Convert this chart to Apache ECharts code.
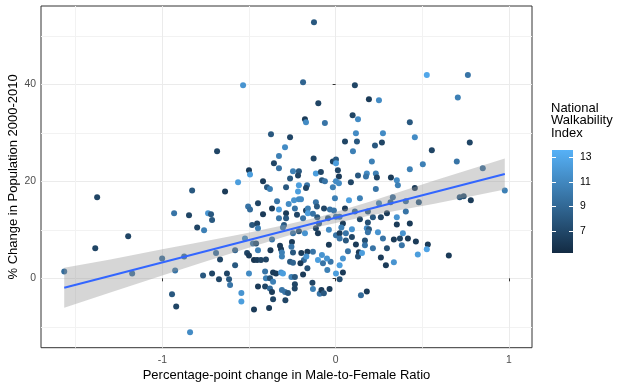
<!DOCTYPE html>
<html><head><meta charset="utf-8">
<script src="https://cdn.jsdelivr.net/npm/echarts@6/dist/echarts.min.js"></script>
<style>html,body{margin:0;padding:0;background:#fff}#c{width:629px;height:389px}</style>
</head><body><div id="c"></div>
<script>
// Percentage-point change in Male-to-Female Ratio
const mfChange = [
-0.125,-0.188,-0.534,-0.100,-0.177,-0.171,-0.373,-0.263,-0.292,-0.684,-0.327,-0.356,-0.127,-0.327,-0.500,-0.494,-0.246,-0.212,-0.217,-0.263,
-0.114,-0.563,-0.419,-0.212,-0.165,-0.396,-0.379,-0.286,-0.217,-0.171,-0.828,-0.638,-1.376,0.526,0.763,0.111,0.192,0.250,0.705,0.098,
0.129,-0.062,0.428,0.117,0.273,0.457,0.054,0.123,0.227,0.267,0.774,0.555,0.100,-0.016,0.002,0.002,0.209,0.503,0.699,0.849,
0.428,0.013,-0.085,0.019,0.129,0.180,0.175,0.232,0.238,0.319,0.353,0.359,-0.079,-0.062,0.002,0.019,0.088,-0.016,0.232,0.457,
0.976,-0.004,0.077,0.140,0.716,0.739,0.780,0.653,0.330,0.250,0.480,0.405,0.317,0.054,0.111,0.186,0.296,0.405,-0.448,-0.338,
-0.367,-0.327,-0.240,-0.212,-0.200,-0.271,-0.235,-0.171,-0.160,-0.114,-0.108,-0.067,-0.033,-0.010,-0.505,-0.494,-0.160,-0.286,-0.419,-0.482,
-0.453,-0.448,-0.327,-0.286,-0.298,-0.304,-0.223,-0.188,-0.131,-0.106,-0.096,-0.044,0.002,-0.246,-0.212,-0.177,-0.114,-0.102,-0.039,0.002,
-0.523,-0.477,-0.459,-0.367,-0.321,-0.315,-0.310,-0.310,-0.252,-0.255,-0.246,-0.198,-0.163,-0.131,-0.183,-0.169,-0.511,-0.500,-0.471,-0.453,
-0.431,-0.402,-0.448,-0.376,-0.263,-0.246,-0.203,-0.102,-0.073,-0.029,-0.079,-0.039,0.002,-0.163,-0.188,-0.048,-0.500,-0.407,-0.361,-0.344,
-0.315,-0.304,-0.255,-0.235,-0.402,-0.379,-0.361,-0.235,-0.448,-0.407,-0.379,-0.367,-0.310,-0.292,-0.275,-0.134,-0.131,-0.092,-0.082,-0.035,
-0.236,-0.361,-0.290,-0.544,-0.544,-0.384,-0.471,-0.068,0.023,0.042,0.140,0.186,0.215,0.261,0.353,0.353,0.428,0.033,0.094,0.180,
0.192,0.186,0.244,0.388,0.023,0.059,0.023,0.059,0.094,0.169,0.169,0.273,0.336,0.371,0.417,0.463,0.117,0.382,0.532,0.526,
0.215,0.296,0.071,0.134,0.129,0.152,0.042,0.023,0.261,0.336,0.290,0.474,0.042,0.023,0.180,0.146,-0.932,-0.846,-0.736,-0.719,
-0.713,-0.799,-0.759,-1.001,-0.874,-0.690,-0.667,-0.580,-0.926,-0.580,-0.765,-0.713,-0.673,-0.627,-0.615,-0.609,-0.944,-0.920,-0.840,-1.566,
-1.387,-1.197,-1.174,-0.050
];
// % Change in Population 2000-2010
const popChange = [
52.8,40.4,39.8,36.1,32.8,32.2,29.7,29.1,27.0,26.2,25.2,23.7,24.7,22.7,22.3,21.4,22.1,22.1,21.2,20.6,
21.6,19.8,20.0,19.2,19.2,18.8,18.4,18.8,17.9,18.6,18.1,17.9,16.7,41.9,41.9,39.8,36.9,36.7,37.3,33.6,
32.8,32.0,32.2,29.9,29.9,29.1,28.2,28.2,27.4,28.0,28.0,26.4,26.2,24.1,24.5,23.7,24.1,23.5,24.1,22.7,
22.5,22.3,21.9,21.0,21.2,21.6,21.0,21.6,20.8,20.8,20.2,19.2,20.2,20.0,20.0,19.6,19.8,18.8,18.4,18.6,
18.1,16.5,16.1,16.5,16.7,16.9,16.1,4.7,16.7,15.5,15.7,15.9,15.7,14.4,13.8,13.8,13.4,13.8,15.5,15.9,
14.4,14.2,16.1,16.3,16.3,15.3,14.4,14.0,14.4,15.7,14.8,14.4,14.2,14.0,14.8,14.2,13.4,13.4,13.2,11.0,
11.3,10.3,12.4,12.4,11.0,10.5,13.1,12.4,13.3,12.6,11.3,12.4,12.7,9.3,9.7,9.3,10.3,9.3,10.0,8.9,
8.2,7.2,7.2,8.0,6.7,6.0,5.3,4.5,7.5,6.5,5.3,5.2,5.5,5.5,3.8,4.5,5.2,4.7,3.8,3.8,
3.8,3.9,5.8,5.8,3.4,3.2,3.1,3.8,3.1,3.4,4.8,6.9,1.0,2.1,0.8,1.7,1.0,1.4,1.2,1.0,
1.2,1.0,0.3,0.3,0.0,0.0,-0.7,-1.2,-1.7,-1.7,-2.1,-2.8,-2.4,-2.8,-3.0,-0.9,-2.2,-3.2,-2.4,-2.2,
-2.1,-4.3,-4.5,-3.0,-4.8,-6.1,-6.4,-3.1,12.7,11.3,12.2,11.5,12.6,12.6,12.6,11.1,11.3,10.5,10.1,10.3,
10.1,9.5,9.5,9.3,9.3,9.3,8.2,7.8,8.5,7.8,6.8,8.2,8.0,8.2,8.2,7.6,7.0,6.8,7.0,6.0,
6.2,6.2,5.6,5.4,4.5,5.2,4.1,2.7,4.3,3.3,2.7,4.9,1.2,-0.2,-2.7,-3.5,13.4,13.0,13.4,13.2,
12.0,10.5,9.9,4.1,4.5,5.2,3.9,5.8,1.6,2.7,0.6,1.0,-0.2,1.0,-0.2,-1.4,-3.3,-5.8,-11.1,1.4,
6.2,8.7,1.0,4.1
];
// National Walkability Index
const walkIndex = [
8,8.8,11.8,6.8,6.2,11.2,8,6.8,11.2,6.8,10.5,6.8,6.8,9.8,6.2,12.4,10.5,8,6.8,8,
12.4,12.4,6.2,12.4,9.8,8,10.5,8,12.4,6.8,8,6.2,6.8,13,9.8,6.8,6.2,11.2,10.5,6.8,
11.2,9.8,8,11.2,11.2,11.2,6.8,8,8,6.8,6.8,6.8,10.5,6.8,8,12.4,10.5,10.5,9.8,9.3,
10.5,6.8,6.8,6.2,8,11.2,9.8,10.5,6.8,6.2,11.2,10.5,8,9.8,11.2,11.2,6.8,10.5,9.8,6.2,
10.5,10.5,12.4,10.5,8,7.5,6.2,6.2,9.3,10.5,8,9.3,8.8,6.2,8.8,8,6.2,9.8,6.8,9.8,
6.2,12.4,11.8,11.2,11.2,11.2,9.8,6.8,10.5,9.8,8,6.8,9.8,9.8,9.8,9.3,12.4,6.2,6.2,8,
6.8,10.5,9.8,8,8,9.8,6.8,9.8,9.8,8,8,8,9.8,9.8,7.5,11.8,6.8,6.2,11.2,9.8,
11.2,9.8,7.5,9.8,6.2,6.2,10.5,10.5,6.2,9.8,8,6.2,6.2,9.8,9.3,11.8,6.8,6.2,5.8,6.2,
6.8,6.8,10.5,6.2,8,8.8,6.2,12.4,9.8,9.8,11.8,6.2,12.4,7.5,6.2,10.5,11.2,9.8,6.2,6.2,
11.8,12.4,10.5,8,10.5,7.5,10.5,6.8,6.2,6.8,9.3,6.2,9.8,9.8,8,6.8,10.5,9.8,6.2,6.2,
6.8,6.8,6.8,11.8,12.4,6.2,6.2,8,9.8,6.2,6.8,7.5,8,6.8,11.8,6.2,6.2,10.5,11.8,11.2,
8,9.8,11.8,11.8,6.2,9.8,9.8,8,6.8,7.5,9.8,9.8,6.2,6.8,6.2,6.2,6.2,9.8,6.2,12.8,
9.8,7.5,9.8,6.2,7.5,12.4,11.8,12.4,6.2,11.8,6.2,12.4,6.2,7.5,6.2,9.3,9.8,6.8,11.8,8,
8,6.8,10.5,9.3,9.3,9.3,6.8,8.8,9.8,8,8,6.8,6.8,6.8,8,9.8,8,6.8,11.2,9.3,
6.8,6.8,9.3,11.8
];
// linear fit (geom_smooth)
const fitX = [-1.566, 0.976];
const fitY = [-1.94, 21.5];
const bandX = [-1.566, -1.3, -1.0, -0.8, -0.524, -0.3, -0.09, 0.2, 0.57, 0.976];
const bandLower = [-6.04, -2.9, 0.57, 2.92, 6.06, 8.53, 10.67, 12.95, 15.36, 18.31];
const bandUpper = [2.16, 3.9, 5.97, 7.32, 9.26, 10.93, 12.67, 15.85, 20.16, 24.71];
// ticks
const xTicks = [-1, 0, 1];
const xMinor = [-1.5, -0.5, 0.5];
const yTicks = [0, 20, 40];
const yMinor = [-10, 10, 30, 50];
const legendTicks = [7, 9, 11, 13];
const walkRange = [5.2, 13.6];

const FONT = 'Liberation Sans, Arial, sans-serif';
const chart = echarts.init(document.getElementById('c'));

const scatterData = mfChange.map((x, i) => [x, popChange[i], walkIndex[i]]);
const bandData = bandX.map((x, i) => [x, bandLower[i], bandUpper[i]]);

const option = {
  animation: false,
  backgroundColor: '#fff',
  textStyle: { fontFamily: FONT },
  title: {
    text: 'National\nWalkability\nIndex',
    left: 551, top: 102, padding: 0,
    textStyle: { fontSize: 13, fontWeight: 'normal', color: '#000', lineHeight: 12.5, fontFamily: FONT }
  },
  visualMap: {
    show: false, seriesIndex: 0, dimension: 2,
    min: walkRange[0], max: walkRange[1],
    inRange: { color: ['#132B43', '#56B1F7'] }
  },
  grid: [
    { left: 41, right: 97, top: 6, bottom: 41.3, show: true, borderColor: '#333', borderWidth: 1, backgroundColor: '#fff',
      containLabel: false, outerBoundsMode: 'none' },
    { left: 552, top: 150, width: 21, height: 103, show: false, containLabel: false, outerBoundsMode: 'none' }
  ],
  xAxis: [
    {
      type: 'value', gridIndex: 0, min: -1.70, max: 1.133,
      axisLine: { show: false },
      axisTick: { show: true, length: 3, lineStyle: { color: '#333' }, customValues: xTicks },
      axisLabel: { customValues: xTicks, color: '#4D4D4D', fontSize: 10.4, margin: 7, fontFamily: FONT },
      splitLine: { show: true, lineStyle: { color: '#EBEBEB', width: 1 } },
      name: 'Percentage-point change in Male-to-Female Ratio',
      nameLocation: 'middle', nameGap: 21, nameMoveOverlap: false,
      nameTextStyle: { fontSize: 13, color: '#000', fontFamily: FONT }
    },
    {
      type: 'value', gridIndex: 0, min: -1.70, max: 1.133, position: 'bottom',
      axisLine: { show: false },
      axisTick: { show: false, customValues: xMinor },
      axisLabel: { show: false, customValues: xMinor },
      splitLine: { show: true, lineStyle: { color: '#F2F2F2', width: 1 } }
    },
    { type: 'category', gridIndex: 1, data: ['bar'], show: false }
  ],
  yAxis: [
    {
      type: 'value', gridIndex: 0, min: -14.3, max: 56.14,
      axisLine: { show: false },
      axisTick: { show: true, length: 3, lineStyle: { color: '#333' }, customValues: yTicks },
      axisLabel: { customValues: yTicks, color: '#4D4D4D', fontSize: 10.4, margin: 5, fontFamily: FONT },
      splitLine: { show: true, lineStyle: { color: '#EBEBEB', width: 1 } },
      name: '% Change in Population 2000-2010',
      nameLocation: 'middle', nameGap: 21, nameMoveOverlap: false,
      nameTextStyle: { fontSize: 13, color: '#000', fontFamily: FONT }
    },
    {
      type: 'value', gridIndex: 0, min: -14.3, max: 56.14, position: 'left',
      axisLine: { show: false },
      axisTick: { show: false, customValues: yMinor },
      axisLabel: { show: false, customValues: yMinor },
      splitLine: { show: true, lineStyle: { color: '#F2F2F2', width: 1 } }
    },
    {
      type: 'value', gridIndex: 1, min: walkRange[0], max: walkRange[1], position: 'right', z: 10,
      axisLine: { show: false }, splitLine: { show: false },
      axisTick: { show: true, inside: true, length: 4, lineStyle: { color: '#fff', width: 1 }, customValues: legendTicks },
      axisLabel: { customValues: legendTicks, color: '#000', fontSize: 10.4, margin: 7, fontFamily: FONT }
    },
    {
      type: 'value', gridIndex: 1, min: walkRange[0], max: walkRange[1], position: 'left', z: 10,
      axisLine: { show: false }, splitLine: { show: false },
      axisTick: { show: true, inside: true, length: 4, lineStyle: { color: '#fff', width: 1 }, customValues: legendTicks },
      axisLabel: { show: false, customValues: legendTicks }
    }
  ],
  series: [
    {
      type: 'scatter', xAxisIndex: 0, yAxisIndex: 0,
      data: scatterData, symbolSize: 6, z: 2,
      itemStyle: { opacity: 1 }
    },
    {
      type: 'custom', xAxisIndex: 0, yAxisIndex: 0, z: 3,
      data: bandData,
      encode: { x: 0, y: [1, 2] },
      renderItem: function (params, api) {
        if (params.dataIndex !== 0) return;
        const pts = [];
        for (let i = 0; i < bandX.length; i++) pts.push(api.coord([bandX[i], bandUpper[i]]));
        for (let i = bandX.length - 1; i >= 0; i--) pts.push(api.coord([bandX[i], bandLower[i]]));
        return { type: 'polygon', shape: { points: pts }, style: { fill: 'rgba(153,153,153,0.4)' } };
      }
    },
    {
      type: 'line', xAxisIndex: 0, yAxisIndex: 0, z: 4,
      data: fitX.map((x, i) => [x, fitY[i]]),
      symbol: 'none', lineStyle: { color: '#3366FF', width: 2 }
    },
    {
      type: 'custom', xAxisIndex: 2, yAxisIndex: 2, z: 2,
      data: [[0, walkRange[1]]],
      renderItem: function (params, api) {
        const top = api.coord([0, walkRange[1]]);
        const bot = api.coord([0, walkRange[0]]);
        const w = api.size([1, 0])[0];
        return {
          type: 'rect',
          shape: { x: top[0] - w / 2, y: top[1], width: w, height: bot[1] - top[1] },
          style: {
            fill: { type: 'linear', x: 0, y: 0, x2: 0, y2: 1,
              colorStops: [{ offset: 0, color: '#56B1F7' }, { offset: 1, color: '#132B43' }] }
          }
        };
      }
    }
  ]
};
chart.setOption(option);
</script>
</body></html>
